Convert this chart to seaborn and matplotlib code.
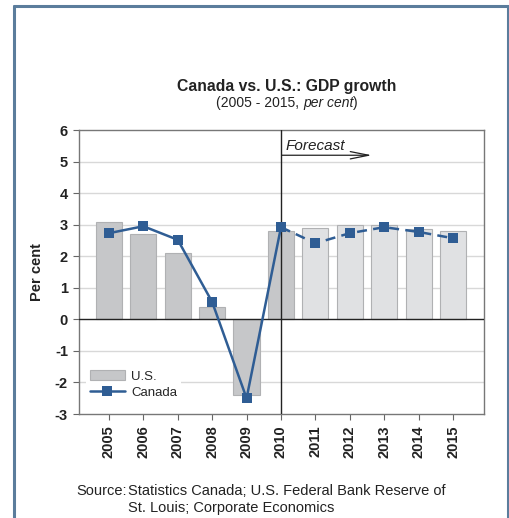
import numpy as np
import pandas as pd
import matplotlib
matplotlib.use("Agg")
import matplotlib.pyplot as plt
from matplotlib.lines import Line2D
from matplotlib.patches import Patch
import seaborn as sns

years = ["2005", "2006", "2007", "2008", "2009", "2010",
         "2011", "2012", "2013", "2014", "2015"]
us_growth = [3.1, 2.7, 2.1, 0.4, -2.4, 2.8, 2.88, 2.98, 2.98, 2.86, 2.81]
canada_growth = [2.73, 2.95, 2.52, 0.55, -2.5, 2.92, 2.41, 2.73, 2.92, 2.77, 2.57]
forecast_start = "2010"
y_ticks = [-3, -2, -1, 0, 1, 2, 3, 4, 5, 6]

sns.set_theme(style="white")
plt.rcParams["font.family"] = ["Liberation Sans", "DejaVu Sans"]

fig = plt.figure(figsize=(5.1, 5.18), dpi=100)
ax = fig.add_axes([79 / 510, 1 - 414 / 518, 405 / 510, 284 / 518])

df = pd.DataFrame({"year": years, "us": us_growth, "canada": canada_growth})
fc_idx = years.index(forecast_start)
bar_colors = ["#c6c7c9" if i <= fc_idx else "#e0e1e3" for i in range(len(years))]

sns.barplot(data=df, x="year", y="us", hue="year", palette=bar_colors,
            legend=False, width=0.76, edgecolor="#b0b1b3", linewidth=0.8,
            saturation=1, ax=ax, zorder=2)

line_color = "#2f5d94"
pos = np.arange(len(years))
hist = df.iloc[:fc_idx + 1]
fut = df.iloc[fc_idx:]
sns.lineplot(x=pos[:fc_idx + 1], y=hist["canada"], color=line_color, lw=1.8,
             marker="s", markersize=6.5, markeredgewidth=0, ax=ax, zorder=4)
sns.lineplot(x=pos[fc_idx:], y=fut["canada"], color=line_color, lw=1.8,
             linestyle=(0, (4, 2.5)), marker="s", markersize=6.5,
             markeredgewidth=0, ax=ax, zorder=4)

ax.set_xlim(-0.87, 10.9)
ax.set_ylim(-3, 6)
ax.set_yticks(y_ticks)
ax.set_yticklabels([str(t) for t in y_ticks], fontsize=10.5, fontweight="bold",
                   color="#222222")
ax.set_xticks(pos)
ax.set_xticklabels(years, rotation=90, fontsize=10.5, fontweight="bold",
                   color="#222222")
ax.tick_params(axis="both", which="major", direction="out", length=4,
               width=0.8, color="#666666", pad=4, left=True, bottom=True)
ax.set_xlabel("")
ax.set_ylabel("Per cent", fontsize=10.5, fontweight="bold", color="#222222",
              labelpad=8)

for t in [-2, -1, 1, 2, 3, 4, 5]:
    ax.axhline(t, color="#d8d8d8", lw=1.0, zorder=0)
ax.axhline(0, color="#222222", lw=1.0, zorder=3)
ax.axvline(fc_idx, color="#222222", lw=1.0, zorder=3)

for s in ax.spines.values():
    s.set_color("#777777")
    s.set_linewidth(1.0)

ax.text(fc_idx + 0.12, 5.5, "Forecast", fontsize=11, style="italic",
        color="#222222", va="center", ha="left")
ax.annotate("", xy=(fc_idx + 2.72, 5.2), xytext=(fc_idx - 0.05, 5.2),
            arrowprops=dict(arrowstyle="->,head_length=1.1,head_width=0.22",
                            color="#222222", lw=0.9))

handles = [Patch(facecolor="#c6c7c9", edgecolor="#b0b1b3", lw=0.8),
           Line2D([], [], color=line_color, lw=1.8, marker="s",
                  markersize=6.5, markeredgewidth=0)]
leg = ax.legend(handles, ["U.S.", "Canada"], loc="lower left",
                bbox_to_anchor=(0.0, 0.016), frameon=True, fontsize=9.5,
                handlelength=2.7, handleheight=0.8, labelspacing=0.25,
                borderpad=0.3, handletextpad=0.45)
leg.get_frame().set_edgecolor("none")
leg.get_frame().set_facecolor("white")
leg.get_frame().set_alpha(1)
leg.set_zorder(5)

fig.text(287 / 510, 1 - 86 / 518, "Canada vs. U.S.: GDP growth",
         ha="center", va="center", fontsize=11.3, fontweight="bold",
         color="#222222")

# Subtitle built from pieces so "per cent" can be italic in the same face
renderer = fig.canvas.get_renderer()
pieces = [("(2005 - 2015, ", "normal"), ("per cent", "italic"), (")", "normal")]
sub_y = 1 - 103 / 518
artists = [fig.text(0, sub_y, s, ha="left", va="center", fontsize=10,
                    style=st, color="#222222") for s, st in pieces]
widths = [a.get_window_extent(renderer).width for a in artists]
x0 = 287 - sum(widths) / 2
for a, w in zip(artists, widths):
    a.set_x(x0 / 510)
    x0 += w

fig.text(76 / 510, 1 - 491 / 518, "Source:", ha="left", va="center",
         fontsize=10.5, color="#222222")
fig.text(128 / 510, 1 - 491 / 518,
         "Statistics Canada; U.S. Federal Bank Reserve of", ha="left",
         va="center", fontsize=10.5, color="#222222")
fig.text(128 / 510, 1 - 508 / 518, "St. Louis; Corporate Economics",
         ha="left", va="center", fontsize=10.5, color="#222222")

frame_color = "#5b7d9c"
fig.add_artist(Line2D([14 / 510, 14 / 510], [0, 1 - 6 / 518],
                      color=frame_color, lw=2.2, transform=fig.transFigure))
fig.add_artist(Line2D([14 / 510, 508 / 510], [1 - 6 / 518, 1 - 6 / 518],
                      color=frame_color, lw=2.2, transform=fig.transFigure))
fig.add_artist(Line2D([508 / 510, 508 / 510], [0, 1 - 6 / 518],
                      color=frame_color, lw=2.2, transform=fig.transFigure))

fig.savefig("out.png", dpi=100)
